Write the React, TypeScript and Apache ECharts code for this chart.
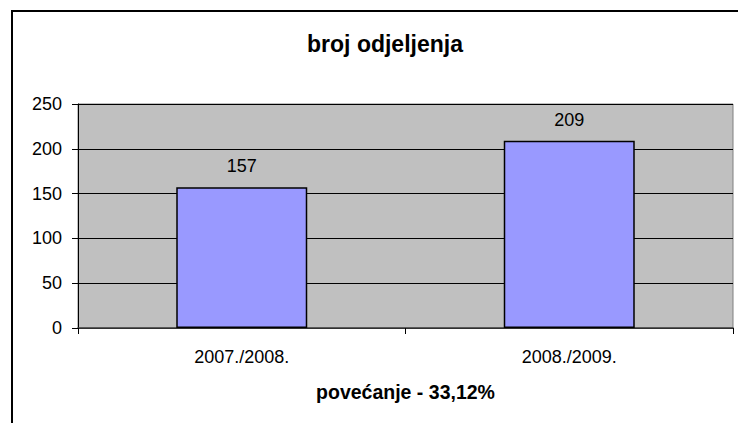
import React, { useEffect, useRef } from "react";
import * as echarts from "echarts";

const categories = ["2007./2008.", "2008./2009."];
const values = [157, 209];
const yTicks = [0, 50, 100, 150, 200, 250];
const titleText = "broj odjeljenja";
const xAxisName = "povećanje - 33,12%";

export default function App() {
  const ref = useRef<HTMLDivElement>(null);
  useEffect(() => {
    if (!ref.current) return;
    const chart = echarts.init(ref.current, null, { renderer: "svg" });
    const font = "'Liberation Sans', Arial, sans-serif";
    chart.setOption({
      animation: false,
      backgroundColor: "#ffffff",
      textStyle: { fontFamily: font },
      title: {
        text: titleText,
        left: 380,
        top: 27,
        textAlign: "center",
        textStyle: { fontFamily: font, fontWeight: "bold", fontSize: 23, color: "#000" },
      },
      graphic: [
        {
          type: "rect",
          shape: { x: 12, y: 11, width: 740, height: 430 },
          style: { fill: "none", stroke: "#000", lineWidth: 2 },
          z: 100,
        },
      ],
      grid: {
        left: 78,
        top: 104,
        width: 655,
        height: 224,
        show: true,
        backgroundColor: "#c0c0c0",
        borderColor: "#808080",
        borderWidth: 1,
      },
      xAxis: {
        type: "category",
        data: categories,
        name: xAxisName,
        nameLocation: "middle",
        nameGap: 54,
        nameTextStyle: { fontFamily: font, fontWeight: "bold", fontSize: 19.5, color: "#000" },
        axisLine: { lineStyle: { color: "#404040", width: 1.5 } },
        axisTick: { show: true, length: 6, lineStyle: { color: "#000" } },
        axisLabel: { fontFamily: font, fontSize: 18, color: "#000", margin: 20 },
      },
      yAxis: {
        type: "value",
        min: yTicks[0],
        max: yTicks[yTicks.length - 1],
        interval: 50,
        axisLine: { show: true, lineStyle: { color: "#000", width: 1 } },
        axisTick: { show: true, length: 6, lineStyle: { color: "#000" } },
        axisLabel: { fontFamily: font, fontSize: 18, color: "#000", margin: 16 },
        splitLine: { show: true, lineStyle: { color: "#000", width: 1 } },
      },
      series: [
        {
          type: "bar",
          data: values,
          barWidth: "40%",
          itemStyle: { color: "#9999ff", borderColor: "#000", borderWidth: 1.5 },
          label: {
            show: true,
            position: "top",
            distance: 12,
            fontFamily: font,
            fontSize: 18,
            color: "#000",
          },
        },
      ],
    });
    return () => chart.dispose();
  }, []);
  return (
    <div
      ref={ref}
      style={{ position: "fixed", left: 0, top: 0, width: 738, height: 423 }}
    />
  );
}
